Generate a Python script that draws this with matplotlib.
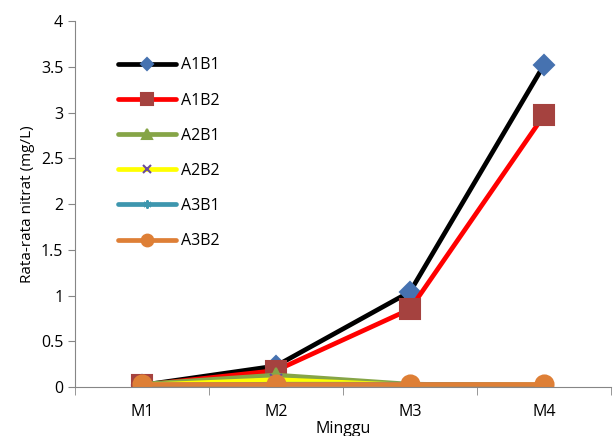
import numpy as np
import matplotlib.pyplot as plt
from matplotlib.ticker import FixedLocator

plt.rcParams["font.family"] = ["Open Sans", "DejaVu Sans"]

weeks = ["M1", "M2", "M3", "M4"]
a1b1 = [0.02, 0.23, 1.04, 3.52]
a1b2 = [0.02, 0.18, 0.85, 2.97]
a2b1 = [0.03, 0.13, 0.03, 0.02]
a2b2 = [0.02, 0.08, 0.02, 0.02]
a3b1 = [0.02, 0.03, 0.03, 0.02]
a3b2 = [0.03, 0.03, 0.03, 0.03]

series = [
    ("A1B1", a1b1, "#000000", "D", "#4672b0", 10),
    ("A1B2", a1b2, "#ff0000", "s", "#a5423f", 14),
    ("A2B1", a2b1, "#86a547", "^", "#86a547", 10),
    ("A2B2", a2b2, "#ffff00", "x", "#6a4c9c", 9),
    ("A3B1", a3b1, "#3d96ae", (6, 2, 0), "#3d96ae", 9),
    ("A3B2", a3b2, "#de7f36", "o", "#de7f36", 13),
]

fig = plt.figure(figsize=(6.14, 4.36), dpi=100)
ax = fig.add_axes([75 / 614, 1 - 387 / 436, 536 / 614, 366 / 436])

x = np.arange(1, len(weeks) + 1)
for name, vals, color, marker, mcolor, ms in series:
    ax.plot(x, vals, color=color, lw=3.4, marker=marker, markersize=ms,
            markerfacecolor=mcolor, markeredgecolor=mcolor,
            markeredgewidth=1.5, label=name, solid_capstyle="round")

ax.set_xlim(0.5, 4.5)
ax.set_ylim(0, 4)
ax.set_yticks(np.arange(0, 4.01, 0.5))
ax.set_yticklabels(["0", "0.5", "1", "1.5", "2", "2.5", "3", "3.5", "4"])
ax.set_xticks(x)
ax.set_xticklabels(weeks)
ax.xaxis.set_minor_locator(FixedLocator(np.arange(0.5, 4.6, 1)))
ax.tick_params(axis="x", which="major", length=0, pad=12, labelsize=11.5)
ax.tick_params(axis="x", which="minor", length=6, color="#868686", direction="out")
ax.tick_params(axis="y", length=5, color="#868686", labelsize=11.5)

for side in ["top", "right"]:
    ax.spines[side].set_visible(False)
for side in ["left", "bottom"]:
    ax.spines[side].set_color("#868686")

ax.set_ylabel("Rata-rata nitrat (mg/L)", fontsize=11)
ax.set_xlabel("Minggu", fontsize=11.5, labelpad=1)

ax.legend(loc="upper left", bbox_to_anchor=(0.054, 0.94), frameon=False,
          fontsize=11.5, handlelength=3.6, handletextpad=0.3,
          labelspacing=1.2, markerscale=0.65)

fig.savefig("out.png", dpi=100)
